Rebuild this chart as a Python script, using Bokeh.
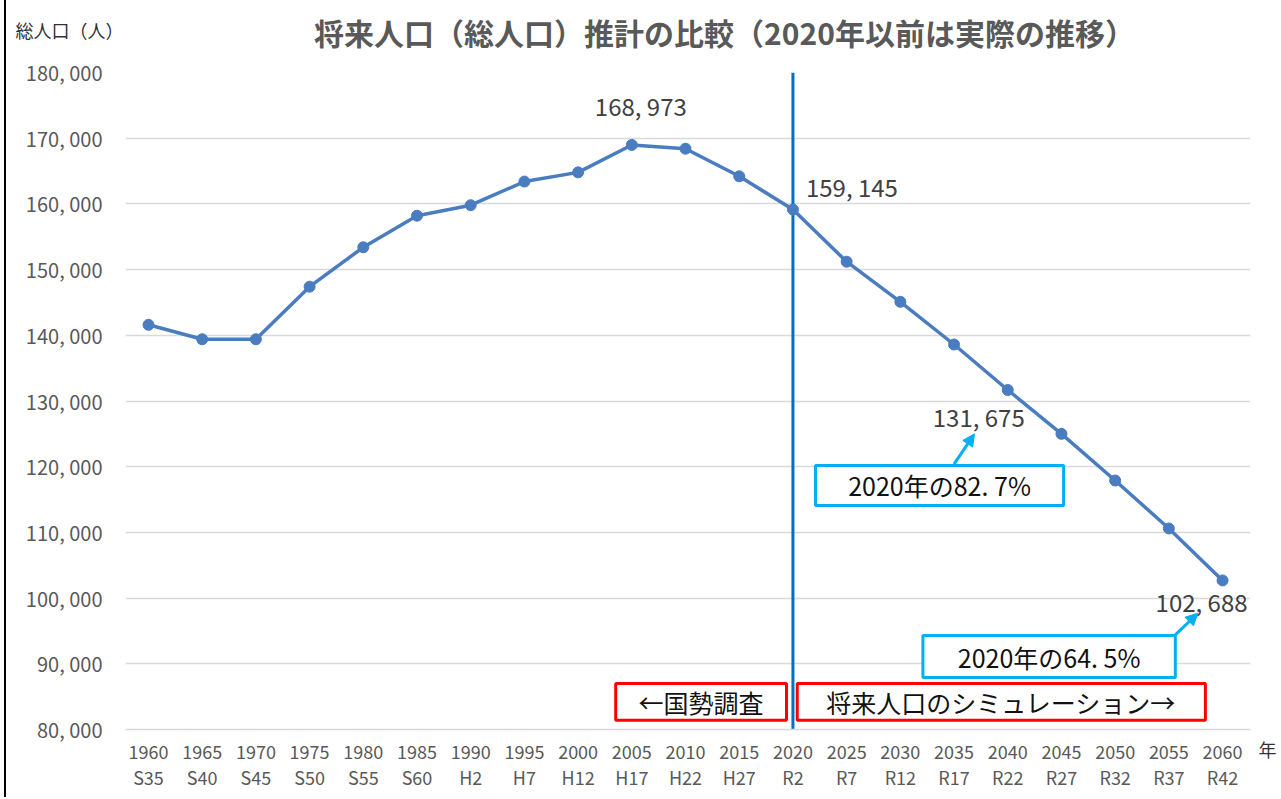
from bokeh.plotting import figure
from bokeh.models import (FixedTicker, Span, Label, BoxAnnotation, Arrow, NormalHead,
                          ColumnDataSource, Range1d)
from bokeh.core.properties import value
from bokeh.embed import file_html
from bokeh.resources import INLINE

# ---------------- data ----------------
years = [1960, 1965, 1970, 1975, 1980, 1985, 1990, 1995, 2000, 2005,
         2010, 2015, 2020, 2025, 2030, 2035, 2040, 2045, 2050, 2055, 2060]
era_labels = ["S35", "S40", "S45", "S50", "S55", "S60", "H2", "H7", "H12", "H17",
              "H22", "H27", "R2", "R7", "R12", "R17", "R22", "R27", "R32", "R37", "R42"]
population = [141600, 139400, 139400, 147400, 153400, 158200, 159800, 163400, 164800, 168973,
              168400, 164200, 159145, 151200, 145100, 138600, 131675, 125000, 117900, 110600, 102688]
y_ticks = [80000, 90000, 100000, 110000, 120000, 130000, 140000, 150000, 160000, 170000, 180000]

label_years = [2005, 2020, 2040, 2060]
label_texts = ["168, 973", "159, 145", "131, 675", "102, 688"]

title_text = "将来人口（総人口）推計の比較（2020年以前は実際の推移）"
y_title = "総人口（人）"
x_unit = "年"
ratio_texts = ["2020年の82. 7%", "2020年の64. 5%"]
period_texts = ["←国勢調査", "将来人口のシミュレーション→"]

FONT = "Noto Sans CJK JP"
LINE_COLOR = "#4A7CC0"

p = figure(width=1274, height=797, output_backend="svg", toolbar_location=None,
           x_range=Range1d(1957.86, 2062.6), y_range=Range1d(80000, 180000),
           min_border_left=119, min_border_right=30, min_border_top=72, min_border_bottom=68)
p.styles = {"margin-left": "4px", "border-left": "2px solid black"}
p.outline_line_color = None
p.background_fill_color = "white"
p.border_fill_color = "white"

# axes
p.xaxis.ticker = FixedTicker(ticks=years)
p.xaxis.major_label_overrides = {y: f"{y}\n{e}" for y, e in zip(years, era_labels)}
p.xaxis.major_label_text_font = FONT
p.xaxis.major_label_text_font_size = "18px"
p.xaxis.major_label_text_line_height = 1.0
p.xaxis.major_label_text_color = "#595959"
p.xaxis.major_label_standoff = 2
p.xaxis.major_tick_line_color = None
p.xaxis.minor_tick_line_color = None
p.xaxis.axis_line_color = "#D9D9D9"
p.xaxis.axis_line_width = 1.5

p.yaxis.ticker = FixedTicker(ticks=y_ticks)
p.yaxis.major_label_overrides = {t: f"{t // 1000}, 000" for t in y_ticks}
p.yaxis.major_label_text_font = FONT
p.yaxis.major_label_text_font_size = "20px"
p.yaxis.major_label_text_color = "#595959"
p.yaxis.major_label_standoff = 17
p.yaxis.major_tick_line_color = None
p.yaxis.minor_tick_line_color = None
p.yaxis.axis_line_color = None

p.xgrid.grid_line_color = None
p.ygrid.grid_line_color = "#D9D9D9"
p.ygrid.grid_line_width = 1.5

# divider at 2020
span = Span(location=2020, dimension="height", line_color="#0070C0", line_width=3, level="underlay")
p.add_layout(span)

# series
src = ColumnDataSource(dict(x=years, y=population))
p.line("x", "y", source=src, line_color=LINE_COLOR, line_width=3.5)
p.scatter("x", "y", source=src, size=11, fill_color=LINE_COLOR, line_color=LINE_COLOR)

# value labels
lab_y = [population[years.index(y)] for y in label_years]
lab_src = ColumnDataSource(dict(x=label_years, y=lab_y, t=label_texts,
                                dx=[9, 13, -29, -21], dy=[-39, -23, 27, 21],
                                align=["center", "left", "center", "center"]))
p.text("x", "y", text="t", source=lab_src, x_offset="dx", y_offset="dy",
       text_align="align", text_baseline="middle", text_font=value(FONT),
       text_font_size="24px", text_color="#404040")

# title & captions outside the frame (side panels, canvas units)
p.add_layout(Label(x=716, y=31, x_units="canvas", y_units="canvas", text=title_text,
                   text_align="center", text_baseline="middle", text_font=FONT,
                   text_font_size="30px", text_font_style="bold", text_color="#595959"), "above")
p.add_layout(Label(x=7, y=29, x_units="canvas", y_units="canvas", text=y_title,
                   text_align="left", text_baseline="middle",
                   text_font=FONT, text_font_size="18px", text_color="#333333"), "above")
p.add_layout(Label(x=1259, y=748, x_units="canvas", y_units="canvas", text=x_unit,
                   text_align="center", text_baseline="middle",
                   text_font=FONT, text_font_size="18px", text_color="#333333"), "right")

# ratio boxes (cyan) with arrows
CYAN = "#00B0F0"
p.add_layout(BoxAnnotation(left=2022.1, right=2045.2, bottom=114100, top=120200,
                           fill_color="white", fill_alpha=1, line_color=CYAN, line_width=3, line_alpha=1))
p.add_layout(BoxAnnotation(left=2032.1, right=2055.6, bottom=87900, top=94300,
                           fill_color="white", fill_alpha=1, line_color=CYAN, line_width=3, line_alpha=1))
p.add_layout(Label(x=2033.65, y=117150, text=ratio_texts[0], text_align="center", text_baseline="middle",
                   text_font=FONT, text_font_size="25px", text_color="#111111"))
p.add_layout(Label(x=2043.85, y=91100, text=ratio_texts[1], text_align="center", text_baseline="middle",
                   text_font=FONT, text_font_size="25px", text_color="#111111"))
p.add_layout(Arrow(x_start=2035.0, y_start=120400, x_end=2036.9, y_end=125000,
                   line_color=CYAN, line_width=3,
                   end=NormalHead(size=12, fill_color=CYAN, line_color=CYAN)))
p.add_layout(Arrow(x_start=2055.6, y_start=94400, x_end=2057.7, y_end=97700,
                   line_color=CYAN, line_width=3,
                   end=NormalHead(size=12, fill_color=CYAN, line_color=CYAN)))

# period boxes (red)
RED = "#FF0000"
p.add_layout(BoxAnnotation(left=2003.5, right=2019.4, bottom=81400, top=87000,
                           fill_color="white", fill_alpha=1, line_color=RED, line_width=3, line_alpha=1))
p.add_layout(BoxAnnotation(left=2020.4, right=2058.4, bottom=81400, top=87000,
                           fill_color="white", fill_alpha=1, line_color=RED, line_width=3, line_alpha=1))
p.add_layout(Label(x=2011.45, y=84200, text=period_texts[0], text_align="center", text_baseline="middle",
                   text_font=FONT, text_font_size="25px", text_color="#111111"))
p.add_layout(Label(x=2039.4, y=84200, text=period_texts[1], text_align="center", text_baseline="middle",
                   text_font=FONT, text_font_size="25px", text_color="#111111"))

open("out.html", "w").write(file_html(p, INLINE))
